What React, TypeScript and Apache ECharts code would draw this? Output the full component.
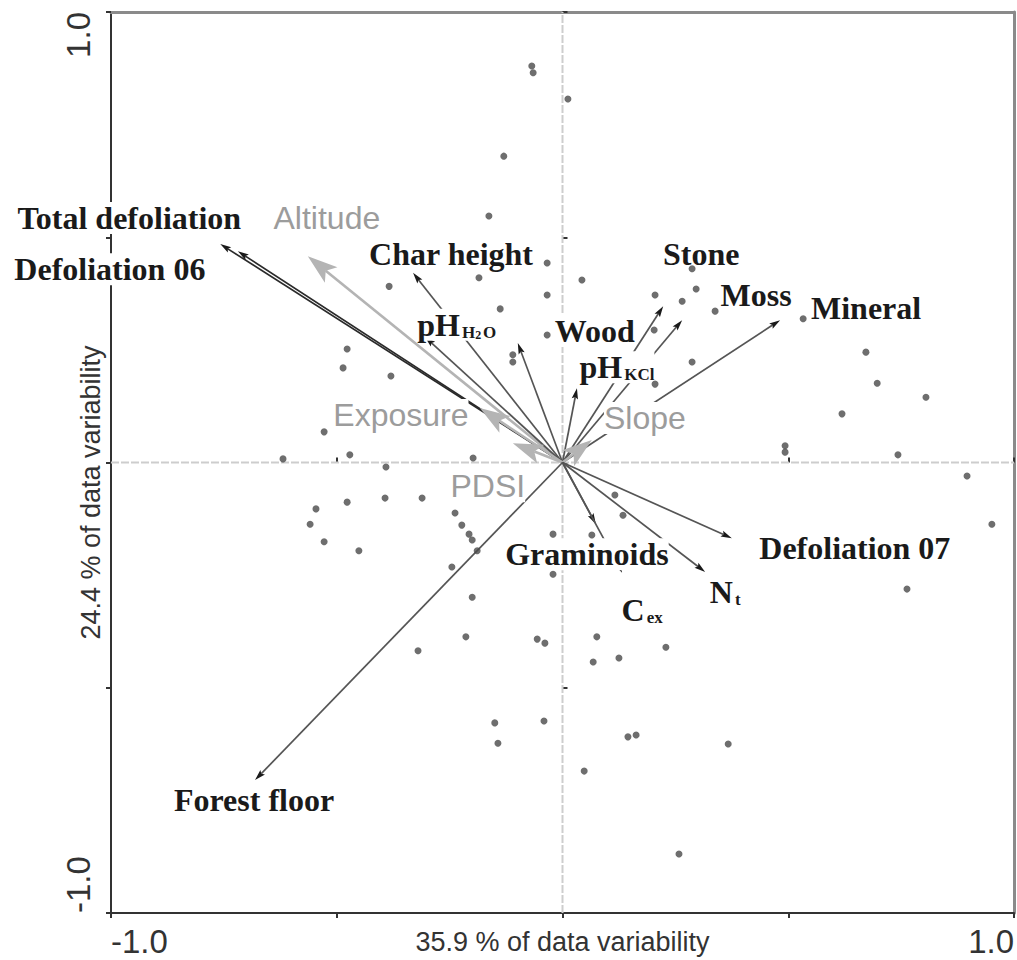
import React, { useEffect, useRef } from "react";
import * as echarts from "echarts";

// Sample (site) scores: [axis 1, axis 2]
const siteScores: [number, number][] = [
  [-0.068, 0.88], [-0.065, 0.865], [0.012, 0.807], [-0.13, 0.68], [-0.163, 0.547],
  [-0.034, 0.443], [-0.384, 0.391], [-0.185, 0.41], [0.043, 0.405], [-0.034, 0.372],
  [-0.138, 0.341], [0.205, 0.372], [0.287, 0.43], [0.296, 0.385], [0.265, 0.358],
  [0.338, 0.336], [0.203, 0.294], [0.287, 0.223], [0.205, 0.174], [0.533, 0.319],
  [0.672, 0.245], [0.697, 0.176], [0.619, 0.108], [0.805, 0.145], [0.493, 0.037],
  [0.493, 0.023], [0.743, 0.017], [0.896, -0.03], [0.951, -0.137], [0.763, -0.281],
  [-0.477, 0.252], [-0.486, 0.21], [-0.38, 0.192], [-0.528, 0.068], [-0.619, 0.008],
  [-0.471, 0.017], [-0.198, 0.01], [-0.034, 0.283], [-0.11, 0.239], [-0.11, 0.223],
  [-0.391, -0.01], [-0.393, -0.079], [-0.477, -0.088], [-0.311, -0.079], [-0.546, -0.103],
  [-0.559, -0.137], [-0.528, -0.176], [-0.451, -0.196], [-0.238, -0.112], [-0.223, -0.139],
  [-0.207, -0.159], [-0.2, -0.172], [-0.189, -0.196], [-0.245, -0.232], [-0.2, -0.299],
  [-0.021, -0.159], [-0.021, -0.248], [0.065, -0.161], [0.116, -0.072], [0.134, -0.117],
  [-0.32, -0.418], [-0.214, -0.387], [-0.056, -0.392], [-0.039, -0.401], [0.076, -0.387],
  [0.068, -0.443], [0.125, -0.434], [0.229, -0.41], [-0.15, -0.578], [-0.143, -0.623],
  [-0.041, -0.574], [0.145, -0.609], [0.163, -0.605], [0.048, -0.685], [0.367, -0.625],
  [0.258, -0.869],
];

// Variable vectors (biplot arrows)
const vectorNames = [
  "Total defoliation", "Defoliation 06", "Altitude", "Char height", "pH H2O",
  "Wood", "pH KCl", "Stone", "Moss", "Mineral", "Exposure", "PDSI", "Slope",
  "Graminoids", "Cex", "Nt", "Defoliation 07", "Forest floor",
];
const vectorX = [
  -0.758, -0.719, -0.564, -0.331, -0.305,
  -0.099, 0.032, 0.223, 0.265, 0.482, -0.183, -0.11, 0.065,
  0.074, 0.132, 0.316, 0.375, -0.681,
];
const vectorY = [
  0.485, 0.469, 0.458, 0.421, 0.279,
  0.265, 0.165, 0.347, 0.316, 0.316, 0.121, 0.043, 0.05,
  -0.137, -0.245, -0.243, -0.168, -0.705,
];
// 0 = response / soil variable (black), 1 = environmental variable (grey)
const vectorKind = [0, 0, 1, 0, 0, 0, 0, 0, 0, 0, 1, 1, 1, 0, 0, 0, 0, 0];

const axisTickLabels: Record<string, string> = { "-1": "-1.0", "1": "1.0" };
const xAxisTitle = "35.9 % of data variability";
const yAxisTitle = "24.4 % of data variability";

// Label text (rich markup) and placement of each label relative to its arrow tip, px
const labelLayout: Record<string, { text: string; dx: number; dy: number }> = {
  "Total defoliation": { text: "Total defoliation", dx: -91, dy: -26 },
  "Defoliation 06": { text: "Defoliation 06", dx: -128, dy: 18 },
  Altitude: { text: "Altitude", dx: 19, dy: -38 },
  "Char height": { text: "Char height", dx: 38, dy: -19 },
  "pH H2O": { text: "pH{s|H}{t|2}{s|O}", dx: 32, dy: -12 },
  Wood: { text: "Wood", dx: 77, dy: -12 },
  "pH KCl": { text: "pH{s|KCl}", dx: 40, dy: -21 },
  Stone: { text: "Stone", dx: 38, dy: -52 },
  Moss: { text: "Moss", dx: 74, dy: -25 },
  Mineral: { text: "Mineral", dx: 86, dy: -12 },
  Exposure: { text: "Exposure", dx: -79, dy: 7 },
  PDSI: { text: "PDSI", dx: -25, dy: 43 },
  Slope: { text: "Slope", dx: 53, dy: -22 },
  Graminoids: { text: "Graminoids", dx: -9, dy: 30 },
  Cex: { text: "C{s|ex}", dx: 20, dy: 37 },
  Nt: { text: "N{s|t}", dx: 20, dy: 20 },
  "Defoliation 07": { text: "Defoliation 07", dx: 123, dy: 10 },
  "Forest floor": { text: "Forest floor", dx: -1, dy: 20 },
};

const SERIF = '"Liberation Serif", "Times New Roman", serif';
const SANS = '"Liberation Sans", Arial, sans-serif';

export default function App() {
  const ref = useRef<HTMLDivElement>(null);

  useEffect(() => {
    document.body.style.margin = "0";
    const chart = echarts.init(ref.current!, undefined, { renderer: "svg" });

    const vectorData = vectorNames.map((n, i) => [vectorX[i], vectorY[i], vectorKind[i], i]);

    const tickFmt = (v: number) => axisTickLabels[String(v)] ?? "";

    const baseAxis = { type: "value", min: -1, max: 1, interval: 0.5, splitLine: { show: false } };

    chart.setOption({
      animation: false,
      backgroundColor: "#ffffff",
      grid: {
        left: 111,
        top: 12,
        width: 903,
        height: 901,
        containLabel: false,
        outerBoundsMode: "none",
      },
      xAxis: [
        {
          ...baseAxis,
          position: "bottom",
          name: xAxisTitle,
          nameLocation: "middle",
          nameGap: 15,
          nameMoveOverlap: false,
          nameTextStyle: { fontFamily: SANS, fontSize: 27, color: "#333" },
          axisLine: { show: true, onZero: false, lineStyle: { color: "#333", width: 2 } },
          axisTick: { show: true, length: 5, lineStyle: { color: "#333", width: 2 } },
          axisLabel: {
            formatter: tickFmt,
            fontFamily: SANS,
            fontSize: 33,
            color: "#333",
            margin: 12,
            alignMinLabel: "left",
            alignMaxLabel: "right",
          },
        },
        {
          ...baseAxis,
          position: "top",
          axisLine: { show: true, onZero: false, lineStyle: { color: "#8a8a8a", width: 3 } },
          axisTick: { show: false },
          axisLabel: { show: false },
        },
        {
          ...baseAxis,
          position: "bottom",
          axisLine: { show: false },
          axisTick: { show: true, inside: true, length: 5, lineStyle: { color: "#333", width: 2 } },
          axisLabel: { show: false },
        },
      ],
      yAxis: [
        {
          ...baseAxis,
          position: "left",
          name: yAxisTitle,
          nameLocation: "middle",
          nameGap: 7,
          nameMoveOverlap: false,
          nameTextStyle: { fontFamily: SANS, fontSize: 27, color: "#333", padding: [0, 0, 0, -60] },
          axisLine: { show: true, onZero: false, lineStyle: { color: "#333", width: 2 } },
          axisTick: { show: true, length: 5, lineStyle: { color: "#333", width: 2 } },
          axisLabel: {
            formatter: tickFmt,
            rotate: 90,
            fontFamily: SANS,
            fontSize: 33,
            color: "#333",
            margin: 16,
            alignMinLabel: "left",
            alignMaxLabel: "right",
          },
        },
        {
          ...baseAxis,
          position: "right",
          axisLine: { show: true, onZero: false, lineStyle: { color: "#8a8a8a", width: 3 } },
          axisTick: { show: false },
          axisLabel: { show: false },
        },
        {
          ...baseAxis,
          position: "left",
          axisLine: { show: false },
          axisTick: { show: true, inside: true, length: 5, lineStyle: { color: "#333", width: 2 } },
          axisLabel: { show: false },
        },
      ],
      series: [
        // zero reference lines
        {
          type: "line",
          data: [[-1, 0], [1, 0]],
          symbol: "none",
          lineStyle: { color: "#cdcdcd", width: 2, type: [8, 2] },
          z: 1,
          silent: true,
        },
        {
          type: "line",
          data: [[0, -1], [0, 1]],
          symbol: "none",
          lineStyle: { color: "#cdcdcd", width: 2, type: [8, 2] },
          z: 1,
          silent: true,
        },
        // arrows
        {
          type: "custom",
          coordinateSystem: "cartesian2d",
          data: vectorData,
          z: 2,
          silent: true,
          renderItem: (_p: any, api: any) => {
            const kind = api.value(2);
            const o = api.coord([0, 0]);
            const t = api.coord([api.value(0), api.value(1)]);
            const dx = t[0] - o[0];
            const dy = t[1] - o[1];
            const len = Math.hypot(dx, dy) || 1;
            const ux = dx / len;
            const uy = dy / len;
            const hl = kind ? 30 : 11;
            const hw = kind ? 10 : 3.2;
            const bx = t[0] - ux * hl;
            const by = t[1] - uy * hl;
            const nx = bx + ux * (kind ? 7 : 2);
            const ny = by + uy * (kind ? 7 : 2);
            const lineColor = kind ? "#b4b4b4" : i2c(api.value(3));
            const headColor = kind ? "#b4b4b4" : "#1a1a1a";
            return {
              type: "group",
              children: [
                {
                  type: "line",
                  shape: { x1: o[0], y1: o[1], x2: nx, y2: ny },
                  style: { stroke: lineColor, lineWidth: kind ? 2.6 : 1.7 },
                },
                {
                  type: "polygon",
                  shape: {
                    points: [
                      [t[0], t[1]],
                      [bx - uy * hw, by + ux * hw],
                      [nx, ny],
                      [bx + uy * hw, by - ux * hw],
                    ],
                  },
                  style: { fill: headColor },
                },
              ],
            };
          },
        },
        // labels
        {
          type: "custom",
          coordinateSystem: "cartesian2d",
          data: vectorData,
          z: 3,
          silent: true,
          renderItem: (_p: any, api: any) => {
            const kind = api.value(2);
            const name = vectorNames[api.value(3)];
            const lay = labelLayout[name];
            const t = api.coord([api.value(0), api.value(1)]);
            return {
              type: "text",
              x: t[0] + lay.dx,
              y: t[1] + lay.dy,
              style: {
                text: lay.text,
                fontFamily: kind ? SANS : SERIF,
                fontWeight: kind ? "normal" : "bold",
                fontSize: 32,
                fill: kind ? "#9c9c9c" : "#1a1a1a",
                align: "center",
                verticalAlign: "middle",
                backgroundColor: "#ffffff",
                rich: {
                  s: {
                    fontFamily: SERIF,
                    fontWeight: "bold",
                    fontSize: 17,
                    fill: "#1a1a1a",
                    verticalAlign: "bottom",
                    padding: [12, 0, 0, 2],
                  },
                  t: {
                    fontFamily: SERIF,
                    fontWeight: "bold",
                    fontSize: 12,
                    fill: "#1a1a1a",
                    verticalAlign: "bottom",
                    padding: [16, 0, 0, 0],
                  },
                },
              },
            };
          },
        },
        // site scores
        {
          type: "scatter",
          data: siteScores,
          symbol: "circle",
          symbolSize: 7,
          itemStyle: { color: "#4a4a4a" },
          z: 4,
          silent: true,
        },
      ],
    });

    return () => chart.dispose();
  }, []);

  return <div ref={ref} style={{ width: 1017, height: 960 }} />;
}

// the two defoliation arrows are drawn darker than the rest
function i2c(i: number): string {
  return i <= 1 ? "#2a2a2a" : "#555555";
}
